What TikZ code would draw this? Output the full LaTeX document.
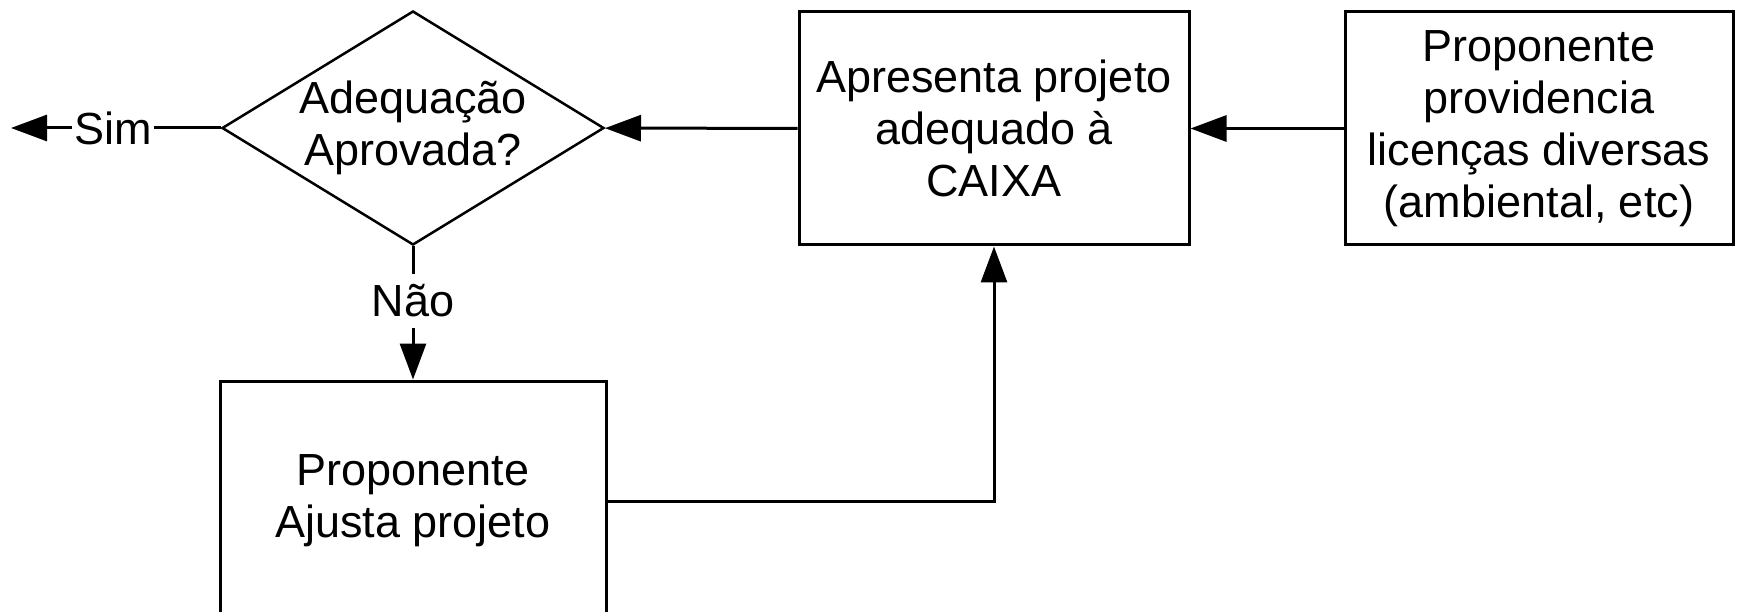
\documentclass[tikz,border=0pt]{standalone}
\usepackage{fontspec}
\setmainfont{Liberation Sans}
\usetikzlibrary{shapes.geometric,arrows.meta}
\begin{document}
\begin{tikzpicture}[x=1pt,y=-1pt,
  every node/.style={font=\fontsize{45}{52}\selectfont, text=black},
  boxnode/.style={draw, line width=3pt, rectangle, minimum height=233pt, align=center, inner sep=0pt},
  decision/.style={draw, line width=2.5pt, diamond, aspect=1.63, minimum width=382pt, minimum height=234pt, inner sep=-4pt, align=center},
  conn/.style={line width=3pt},
  arr/.style={line width=3pt, -{Triangle[length=36pt,width=26pt]}},
  lbl/.style={inner xsep=2pt, inner ysep=10pt}
]
\useasboundingbox (0,0) rectangle (1737,612);
\clip (0,0) rectangle (1737,612);
\node[decision] (dec) at (413,128) {Adequação\\Aprovada?};
\node[boxnode, minimum width=390pt] (apr) at (994,128.5) {Apresenta projeto\\adequado à\\CAIXA};
\node[boxnode, minimum width=388pt] (prov) at (1539,128.5) {Proponente\\providencia\\licenças diversas\\(ambiental, etc)};
\node[boxnode, minimum width=386pt, minimum height=240pt] (aju) at (413,501) {Proponente\\Ajusta projeto};
\node[lbl] (sim) at (113,128) {Sim};
\coordinate (out) at (11,128);
\node[lbl] (nao) at (413,301) {Não};
\draw[arr] (prov) -- (apr);
\draw[arr] (apr) -- (dec);
\draw[conn] (dec) -- (sim);
\draw[arr] (sim) -- (out);
\draw[conn] (dec) -- (nao);
\draw[arr] (nao) -- (aju);
\draw[arr] (aju.east) -| (apr.south);
\end{tikzpicture}
\end{document}
